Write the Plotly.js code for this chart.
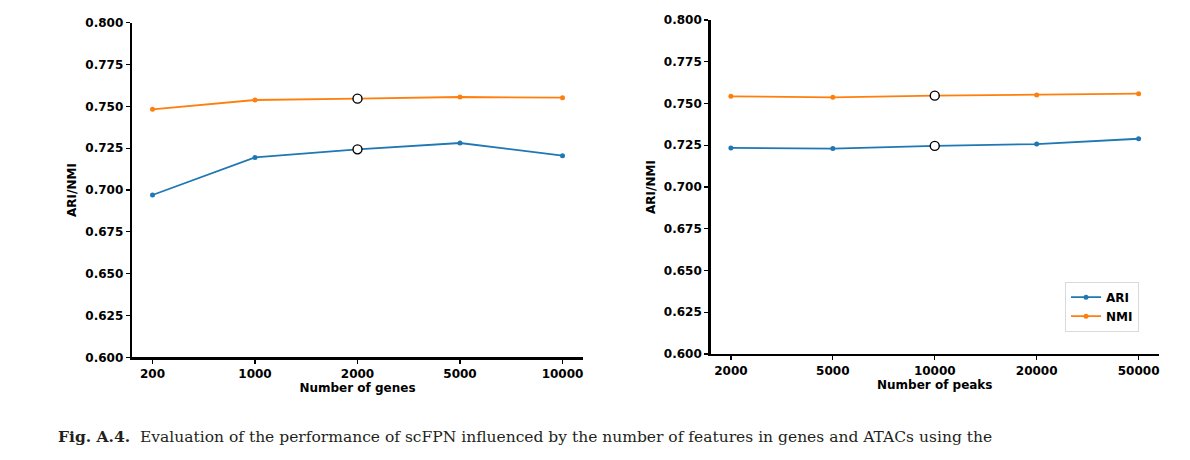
<!DOCTYPE html>
<html>
<head>
<meta charset="utf-8">
<script src="https://cdn.plot.ly/plotly-3.0.1.min.js"></script>
<style>html,body{margin:0;padding:0;background:#fff;}#chart{width:1190px;height:460px;}</style>
</head>
<body>
<div id="chart"></div>
<script>
// Left panel: number of genes
const genesCategories = ["200", "1000", "2000", "5000", "10000"];
const genesARI = [0.6970, 0.7195, 0.7243, 0.7281, 0.7205];
const genesNMI = [0.7482, 0.7538, 0.7546, 0.7556, 0.7552];
const genesSelected = "2000";

// Right panel: number of peaks
const peaksCategories = ["2000", "5000", "10000", "20000", "50000"];
const peaksARI = [0.7234, 0.7230, 0.7246, 0.7257, 0.7289];
const peaksNMI = [0.7543, 0.7537, 0.7547, 0.7551, 0.7559];
const peaksSelected = "10000";

const yTickVals = [0.600, 0.625, 0.650, 0.675, 0.700, 0.725, 0.750, 0.775, 0.800];

const caption = "<b>Fig. A.4.</b>&nbsp;&nbsp;Evaluation of the performance of scFPN influenced by the number of features in genes and ATACs using the";

const blue = "#1f77b4", orange = "#ff7f0e";
const tickFont = {family: "DejaVu Sans", size: 12, color: "#000", weight: "bold"};

function lineTrace(x, y, name, color, xa, ya, showleg) {
  return {x: x, y: y, name: name, type: "scatter", mode: "lines+markers",
    xaxis: xa, yaxis: ya, showlegend: showleg,
    line: {color: color, width: 1.8},
    marker: {color: color, size: 5}};
}
function selTrace(cats, vals, sel, xa, ya) {
  const i = cats.indexOf(sel);
  return {x: [sel], y: [vals[i]], type: "scatter", mode: "markers",
    xaxis: xa, yaxis: ya, showlegend: false, hoverinfo: "skip",
    marker: {symbol: "circle", size: 9, color: "#fff", line: {color: "#000", width: 1.4}}};
}

const data = [
  lineTrace(genesCategories, genesARI, "ARI", blue, "x", "y", false),
  lineTrace(genesCategories, genesNMI, "NMI", orange, "x", "y", false),
  selTrace(genesCategories, genesARI, genesSelected, "x", "y"),
  selTrace(genesCategories, genesNMI, genesSelected, "x", "y"),
  lineTrace(peaksCategories, peaksARI, "ARI", blue, "x2", "y2", true),
  lineTrace(peaksCategories, peaksNMI, "NMI", orange, "x2", "y2", true),
  selTrace(peaksCategories, peaksARI, peaksSelected, "x2", "y2"),
  selTrace(peaksCategories, peaksNMI, peaksSelected, "x2", "y2")
];

function xAxis(domain, anchor, title, cats) {
  return {domain: domain, anchor: anchor, type: "category", range: [-0.2, 4.2],
    categoryorder: "array", categoryarray: cats,
    showline: true, linecolor: "#000", linewidth: 2.3, mirror: false,
    ticks: "outside", ticklen: 4, tickwidth: 1.3, tickcolor: "#000",
    showgrid: false, zeroline: false, tickfont: tickFont, fixedrange: true,
    title: {text: title, font: tickFont, standoff: 4}};
}
function yAxis(domain, anchor) {
  return {domain: domain, anchor: anchor, range: [0.6, 0.8],
    tickvals: yTickVals, tickformat: ".3f",
    showline: true, linecolor: "#000", linewidth: 2.3, mirror: false,
    ticks: "outside", ticklen: 4, tickwidth: 1.3, tickcolor: "#000",
    showgrid: false, zeroline: false, tickfont: tickFont, fixedrange: true,
    title: {text: "ARI/NMI", font: tickFont, standoff: 6}};
}

const layout = {
  width: 1190, height: 460,
  margin: {l: 0, r: 0, t: 0, b: 0},
  paper_bgcolor: "#fff", plot_bgcolor: "#fff",
  font: {family: "DejaVu Sans", color: "#000"},
  xaxis: xAxis([132/1190, 583/1190], "y", "Number of genes", genesCategories),
  yaxis: yAxis([1 - 357.3/460, 1 - 22.7/460], "x"),
  xaxis2: xAxis([710.5/1190, 1159/1190], "y2", "Number of peaks", peaksCategories),
  yaxis2: yAxis([1 - 354/460, 1 - 20/460], "x2"),
  legend: {x: 1139/1190, y: 1 - 331.7/460, xanchor: "right", yanchor: "bottom",
    bgcolor: "rgba(255,255,255,0.8)", bordercolor: "#d9d9d9", borderwidth: 1,
    font: {family: "DejaVu Sans", size: 12, color: "#000", weight: "bold"},
    tracegroupgap: 0, itemwidth: 30},
  annotations: [{
    xref: "paper", yref: "paper", x: 56/1190, y: 1 - 436/460,
    xanchor: "left", yanchor: "middle", showarrow: false,
    text: caption,
    font: {family: "DejaVu Serif", size: 15.5, color: "#231f20"}
  }],
  showlegend: true
};

Plotly.newPlot("chart", data, layout, {displayModeBar: false, staticPlot: true});
</script>
</body>
</html>
